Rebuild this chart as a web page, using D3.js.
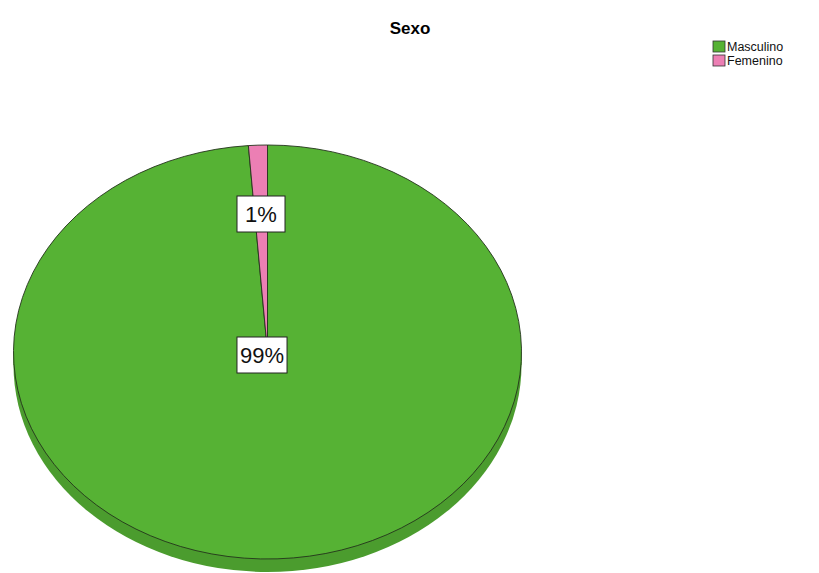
<!DOCTYPE html>
<html>
<head>
<meta charset="utf-8">
<script src="https://cdn.jsdelivr.net/npm/d3@7"></script>
<style>
  body { margin: 0; background: #fff; }
  svg { display: block; }
</style>
</head>
<body>
<svg id="chart"></svg>
<script>
// datos
const categorias = ["Masculino", "Femenino"];
const porcentajes = [98.8, 1.2];
const etiquetas = ["99%", "1%"];
const colores = ["#56b234", "#ec7fb4"];

const width = 819, height = 573;
const cx = 267.5, cy = 352, rx = 254, ry = 207, depth = 13;

const svg = d3.select("#chart").attr("width", width).attr("height", height);

// titulo
svg.append("text")
  .attr("x", 410).attr("y", 34)
  .attr("text-anchor", "middle")
  .attr("font-family", "Arial, 'Liberation Sans', sans-serif")
  .attr("font-weight", "bold")
  .attr("font-size", 17)
  .text("Sexo");

const data = categorias.map((c, i) => ({ cat: c, v: porcentajes[i], lab: etiquetas[i], col: colores[i] }));

const pie = d3.pie().sort(null).value(d => d.v);
const arcs = pie(data);
const arc = d3.arc().innerRadius(0).outerRadius(rx);

// lado 3D (sombra inferior)
const side = svg.append("g");
side.append("rect")
  .attr("x", cx - rx).attr("y", cy)
  .attr("width", rx * 2).attr("height", depth)
  .attr("fill", "#4b9c2e");
side.append("ellipse")
  .attr("cx", cx).attr("cy", cy + depth)
  .attr("rx", rx).attr("ry", ry)
  .attr("fill", "#4b9c2e");

// cara superior
const cara = svg.append("g")
  .attr("transform", `translate(${cx},${cy}) scale(1,${ry / rx})`);

cara.selectAll("path")
  .data(arcs)
  .join("path")
  .attr("d", arc)
  .attr("fill", d => d.data.col)
  .attr("stroke", "#24331c")
  .attr("stroke-width", 0.9)
  .attr("vector-effect", "non-scaling-stroke");

// etiquetas
const labelPos = [[262, 355], [261, 214]];
const lab = svg.append("g")
  .selectAll("g")
  .data(arcs)
  .join("g")
  .attr("transform", (d, i) => `translate(${labelPos[i][0]},${labelPos[i][1]})`);

lab.each(function(d) {
  const g = d3.select(this);
  const t = g.append("text")
    .attr("text-anchor", "middle")
    .attr("dy", "0.36em")
    .attr("font-family", "Arial, 'Liberation Sans', sans-serif")
    .attr("font-size", 22)
    .attr("fill", "#111")
    .text(d.data.lab);
  const bb = t.node().getBBox();
  const w = Math.max(bb.width + 6, 48);
  g.insert("rect", "text")
    .attr("x", -w / 2).attr("y", -18)
    .attr("width", w).attr("height", 36)
    .attr("fill", "#fff")
    .attr("stroke", "#222").attr("stroke-width", 1);
});

// leyenda
const legend = svg.append("g").attr("transform", "translate(713,41)");
const item = legend.selectAll("g")
  .data(data)
  .join("g")
  .attr("transform", (d, i) => `translate(0,${i * 14})`);
item.append("rect")
  .attr("width", 12).attr("height", 11)
  .attr("fill", d => d.col)
  .attr("stroke", "#333").attr("stroke-width", 0.8);
item.append("text")
  .attr("x", 14).attr("y", 10)
  .attr("font-family", "Arial, 'Liberation Sans', sans-serif")
  .attr("font-size", 12.5)
  .attr("fill", "#111")
  .text(d => d.cat);
</script>
</body>
</html>
